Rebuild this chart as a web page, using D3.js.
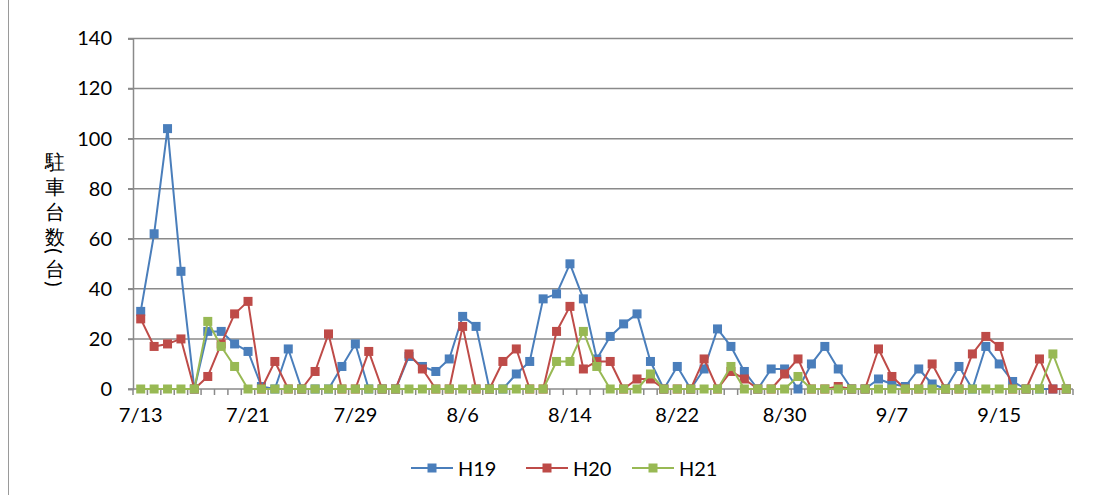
<!DOCTYPE html>
<html>
<head>
<meta charset="utf-8">
<script src="https://cdn.jsdelivr.net/npm/d3@7"></script>
<style>
  html, body { margin: 0; padding: 0; background: #fff; }
  svg { display: block; }
  text { font-family: Lato, "Open Sans", sans-serif; fill: #000; }
</style>
</head>
<body>
<svg id="chart" width="1096" height="495"></svg>
<script>
// categories: 7/13 .. 9/20
const dates = [
  '7/13','7/14','7/15','7/16','7/17','7/18','7/19','7/20','7/21','7/22','7/23','7/24','7/25','7/26','7/27','7/28','7/29','7/30','7/31',
  '8/1','8/2','8/3','8/4','8/5','8/6','8/7','8/8','8/9','8/10','8/11','8/12','8/13','8/14','8/15','8/16','8/17','8/18','8/19','8/20',
  '8/21','8/22','8/23','8/24','8/25','8/26','8/27','8/28','8/29','8/30','8/31',
  '9/1','9/2','9/3','9/4','9/5','9/6','9/7','9/8','9/9','9/10','9/11','9/12','9/13','9/14','9/15','9/16','9/17','9/18','9/19','9/20'
];
const xTickLabels = ['7/13','7/21','7/29','8/6','8/14','8/22','8/30','9/7','9/15'];
const yTicks = [0, 20, 40, 60, 80, 100, 120, 140];

const h19 = [31,62,104,47,0,23,23,18,15,1,0,16,0,0,0,9,18,0,0,0,13,9,7,12,29,25,0,0,6,11,
             36,38,50,36,12,21,26,30,11,0,9,0,8,24,17,7,0,8,8,0,10,17,8,0,0,4,2,1,8,2,
             0,9,0,17,10,3,0,0,0,0];
const h20 = [28,17,18,20,0,5,18,30,35,0,11,0,0,7,22,0,0,15,0,0,14,8,0,0,25,0,0,11,16,0,
             0,23,33,8,11,11,0,4,4,0,0,0,12,0,7,4,0,0,6,12,0,0,1,0,0,16,5,0,0,10,
             0,0,14,21,17,0,0,12,0,0];
const h21 = [0,0,0,0,0,27,17,9,0,0,0,0,0,0,0,0,0,0,0,0,0,0,0,0,0,0,0,0,0,0,
             0,11,11,23,9,0,0,0,6,0,0,0,0,0,9,0,0,0,0,5,0,0,0,0,0,0,0,0,0,0,
             0,0,0,0,0,0,0,0,14,0];

const seriesNames = ['H19', 'H20', 'H21'];
const seriesColors = ['#4a7ebb', '#be4b48', '#98b954'];
const seriesValues = [h19, h20, h21];

const svg = d3.select('#chart');
const gridColor = '#8a8a8a';
const labelSize = '20px';

const x = d3.scaleBand().domain(dates).range([134, 1073]).paddingInner(0).paddingOuter(0);
const y = d3.scaleLinear().domain([0, 140]).range([389, 38.5]);
const cx = d => x(d) + x.bandwidth() / 2;

// outer frame edge
svg.append('line')
    .attr('x1', 8.5).attr('x2', 8.5)
    .attr('y1', 0).attr('y2', 495)
    .attr('stroke', '#9a9a9a')
    .attr('stroke-width', 1);

// horizontal gridlines
svg.append('g')
    .selectAll('line')
    .data(yTicks.slice(1))
    .enter()
    .append('line')
    .attr('x1', 128).attr('x2', 1073)
    .attr('y1', d => y(d)).attr('y2', d => y(d))
    .attr('stroke', gridColor)
    .attr('stroke-width', 1.5);

// y axis
const yAxis = svg.append('g')
    .attr('transform', 'translate(133, 0)')
    .call(d3.axisLeft(y).tickValues(yTicks).tickSize(5).tickPadding(16));
yAxis.select('.domain').attr('stroke', gridColor).attr('stroke-width', 1.5);
yAxis.selectAll('.tick line').attr('stroke', gridColor).attr('stroke-width', 1.5);
yAxis.selectAll('.tick text')
    .attr('font-size', labelSize)
    .attr('font-family', 'Lato, sans-serif')
    .attr('fill', '#000');

// x axis: ticks on category boundaries
const xAxisG = svg.append('g').attr('transform', `translate(0, ${y(0)})`);
xAxisG.append('line')
    .attr('x1', 128).attr('x2', 1073)
    .attr('stroke', gridColor).attr('stroke-width', 1.5);
xAxisG.selectAll('line.tk')
    .data(dates)
    .enter()
    .append('line')
    .attr('class', 'tk')
    .attr('x1', d => x(d) + x.bandwidth()).attr('x2', d => x(d) + x.bandwidth())
    .attr('y1', 0).attr('y2', 6)
    .attr('stroke', gridColor).attr('stroke-width', 1.5);
xAxisG.append('line')
    .attr('x1', 133).attr('x2', 133)
    .attr('y1', 0).attr('y2', 6)
    .attr('stroke', gridColor).attr('stroke-width', 1.5);
xAxisG.selectAll('text')
    .data(xTickLabels)
    .enter()
    .append('text')
    .attr('x', d => cx(d))
    .attr('y', 33)
    .attr('text-anchor', 'middle')
    .attr('font-size', labelSize)
    .text(d => d);

// y axis title, stacked vertically
const titleChars = ['駐', '車', '台', '数', '(', '台', ')'];
const titleY = [161, 186, 211, 236, 251, 268, 284];
const titleG = svg.append('g');
titleChars.forEach((ch, i) => {
    const t = titleG.append('text')
        .attr('font-family', '"Noto Sans CJK JP", sans-serif')
        .attr('font-size', '20px')
        .attr('font-weight', 500)
        .attr('text-anchor', 'middle')
        .attr('dominant-baseline', 'central')
        .text(ch);
    if (ch === '(' || ch === ')') {
        t.attr('transform', `translate(55, ${titleY[i]}) rotate(90)`);
    } else {
        t.attr('x', 55).attr('y', titleY[i]);
    }
});

// series
const line = d3.line().x((d, i) => cx(dates[i])).y(d => y(d));
const msize = 9;
seriesValues.forEach((vals, s) => {
    const g = svg.append('g');
    g.append('path')
        .datum(vals)
        .attr('fill', 'none')
        .attr('stroke', seriesColors[s])
        .attr('stroke-width', 2)
        .attr('stroke-linejoin', 'round')
        .attr('d', line);
    g.selectAll('rect')
        .data(vals)
        .enter()
        .append('rect')
        .attr('x', (d, i) => cx(dates[i]) - msize / 2)
        .attr('y', d => y(d) - msize / 2)
        .attr('width', msize)
        .attr('height', msize)
        .attr('fill', seriesColors[s]);
});

// legend
const legendX = [411, 526, 632];
const legend = svg.append('g').attr('transform', 'translate(0, 468)');
seriesNames.forEach((name, s) => {
    const lg = legend.append('g').attr('transform', `translate(${legendX[s]}, 0)`);
    lg.append('line')
        .attr('x1', 0).attr('x2', 42)
        .attr('stroke', seriesColors[s]).attr('stroke-width', 2);
    lg.append('rect')
        .attr('x', 21 - msize / 2).attr('y', -msize / 2)
        .attr('width', msize).attr('height', msize)
        .attr('fill', seriesColors[s]);
    lg.append('text')
        .attr('x', 47)
        .attr('y', 0)
        .attr('dominant-baseline', 'central')
        .attr('font-size', labelSize)
        .text(name);
});
</script>
</body>
</html>
